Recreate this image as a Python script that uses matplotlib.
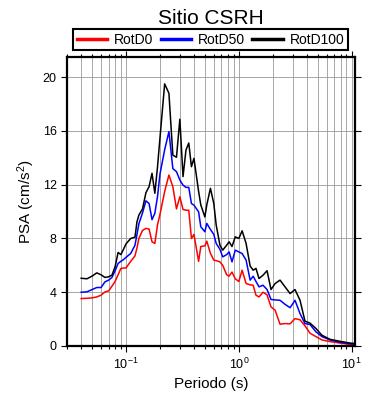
import matplotlib
matplotlib.use('Agg')
import matplotlib.pyplot as plt
from matplotlib.ticker import LogLocator, MultipleLocator, NullFormatter

plt.rcParams['font.family'] = ['Liberation Sans', 'DejaVu Sans']
plt.rcParams['mathtext.fontset'] = 'custom'
plt.rcParams['mathtext.rm'] = 'Liberation Sans'
plt.rcParams['mathtext.it'] = 'Liberation Sans:italic'

periods = [0.040, 0.045, 0.050, 0.055, 0.060, 0.065, 0.070, 0.075, 0.080, 0.085,
           0.090, 0.095, 0.10, 0.11, 0.12, 0.125, 0.13, 0.14, 0.15, 0.16,
           0.17, 0.18, 0.19, 0.20, 0.22, 0.24, 0.26, 0.28, 0.30, 0.32,
           0.34, 0.36, 0.38, 0.40, 0.44, 0.46, 0.50, 0.52, 0.56, 0.60,
           0.63, 0.68, 0.72, 0.78, 0.82, 0.87, 0.93, 1.0, 1.07, 1.16,
           1.26, 1.34, 1.42, 1.51, 1.64, 1.78, 1.93, 2.10, 2.32, 2.57,
           2.85, 3.15, 3.49, 3.86, 4.28, 4.83, 5.46, 6.43, 7.87, 9.66, 10.7]

rotd100 = [5.04, 5.0, 5.2, 5.44, 5.3, 5.1, 5.15, 5.27, 5.9, 6.96,
           6.8, 7.2, 7.6, 8.0, 8.1, 9.24, 9.74, 10.2, 11.4, 11.85,
           12.85, 11.36, 13.3, 15.5, 19.5, 18.8, 14.2, 14.04, 16.87, 12.6,
           14.58, 15.1, 13.34, 13.96, 11.5, 10.5, 9.6, 10.5, 11.73, 10.6,
           9.0, 7.5, 7.13, 7.5, 7.75, 7.4, 8.12, 8.0, 8.57, 7.63,
           5.95, 5.64, 5.77, 5.02, 5.27, 5.6, 4.2, 4.65, 4.9, 4.4,
           3.9, 4.2, 3.4, 1.85, 1.7, 1.3, 0.8, 0.5, 0.35, 0.22, 0.18]

rotd50 = [4.0, 4.03, 4.2, 4.35, 4.35, 4.77, 4.9, 5.1, 5.6, 6.14,
          6.3, 6.43, 6.6, 6.88, 7.5, 8.3, 9.1, 9.9, 10.8, 10.6,
          9.4, 9.87, 11.1, 12.8, 14.6, 15.95, 13.2, 12.97, 12.35, 11.97,
          11.8, 11.8, 10.6, 10.48, 9.98, 8.87, 8.5, 9.12, 8.67, 8.3,
          7.63, 7.2, 6.63, 6.8, 7.0, 6.26, 7.13, 7.0, 6.88, 6.39,
          4.9, 5.19, 4.8, 4.4, 4.52, 4.2, 3.46, 3.43, 3.4, 3.1,
          2.85, 3.4, 2.41, 1.67, 1.6, 1.05, 0.7, 0.45, 0.28, 0.17, 0.13]

rotd0 = [3.53, 3.55, 3.58, 3.65, 3.78, 4.02, 4.1, 4.45, 4.8, 5.3,
         5.77, 5.8, 5.81, 6.3, 6.7, 7.3, 8.0, 8.6, 8.75, 8.7,
         7.75, 7.63, 9.0, 9.8, 11.5, 12.72, 11.85, 10.2, 11.1, 10.16,
         10.1, 10.1, 8.0, 8.3, 6.3, 7.4, 7.45, 7.8, 6.9, 6.39,
         6.35, 6.26, 6.0, 5.3, 5.2, 5.5, 5.0, 4.8, 5.64, 4.65,
         4.55, 4.52, 3.78, 3.65, 4.0, 3.8, 2.91, 2.66, 1.62, 1.67,
         1.65, 2.04, 1.95, 1.5, 0.95, 0.7, 0.45, 0.33, 0.22, 0.12, 0.1]

fig = plt.figure(figsize=(3.9, 4.0), dpi=100)
ax = fig.add_axes([0.172, 0.135, 0.738, 0.7225])

ax.plot(periods, rotd0, color='red', lw=1.1, label='RotD0')
ax.plot(periods, rotd50, color='blue', lw=1.1, label='RotD50')
ax.plot(periods, rotd100, color='black', lw=1.1, label='RotD100')

ax.set_xscale('log')
ax.set_xlim(0.03, 10.7)
ax.set_ylim(0, 21.5)
ax.yaxis.set_major_locator(MultipleLocator(4))
ax.xaxis.set_major_locator(LogLocator(base=10))
ax.xaxis.set_minor_locator(LogLocator(base=10, subs=range(2, 10)))
ax.xaxis.set_minor_formatter(NullFormatter())

ax.grid(True, which='both', axis='x', color='#999999', lw=0.6)
ax.grid(True, which='major', axis='y', color='#999999', lw=0.6)
ax.set_axisbelow(True)

ax.tick_params(which='both', direction='out', top=True, right=True, width=0.8, labelsize=9)
ax.tick_params(which='major', length=4)
ax.tick_params(which='minor', length=2.5)
for s in ax.spines.values():
    s.set_linewidth(1.6)

ax.set_xlabel('Periodo (s)', fontsize=11, labelpad=4)
ax.set_ylabel('PSA (cm/s$^2$)', fontsize=11, labelpad=4)
ax.set_title('Sitio CSRH', fontsize=15, pad=24)

leg = ax.legend(loc='lower left', bbox_to_anchor=(0.021, 1.024, 0.955, 0.0), mode='expand',
                ncol=3, borderaxespad=0, fancybox=False, edgecolor='black', fontsize=10,
                handlelength=2.2, handletextpad=0.5, borderpad=0.25, framealpha=1)
leg.get_frame().set_linewidth(1.5)
for h in leg.get_lines():
    h.set_linewidth(2.5)

fig.savefig('out.png', dpi=100)
